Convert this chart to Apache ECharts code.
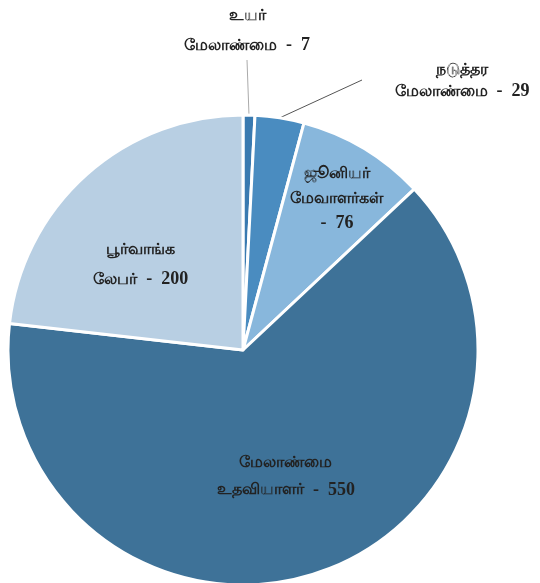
<!DOCTYPE html>
<html>
<head>
<meta charset="utf-8">
<script src="https://cdn.jsdelivr.net/npm/echarts@6/dist/echarts.min.js"></script>
<style>
  html,body{margin:0;padding:0;background:#fff;}
  #main{width:540px;height:583px;}
</style>
</head>
<body>
<div id="main"></div>
<script>
  // data
  var names = ['உயர்\nமேலாண்மை', 'நடுத்தர\nமேலாண்மை', 'ஜூனியர்\nமேவாளர்கள்\n', 'மேலாண்மை\nஉதவியாளர்', 'பூர்வாங்க\nலேபர்']
  var values = [7, 29, 76, 550, 200]
  var colors = ['#3a7ab0', '#4a8cc0', '#88b7dc', '#3e7298', '#b8cfe3']

  // label tweaks per slice
  var lineHeights = [30, 22, 25, 27, 30]
  var labelShift = [null, null, [32, -48], [5, 12], [-22, 4]]

  var chart = echarts.init(document.getElementById('main'))

  var seriesData = values.map(function (v, i) {
    var item = {
      name: names[i],
      value: v,
      itemStyle: { color: colors[i] }
    }
    if (i < 2) {
      item.label = { position: 'outside', lineHeight: lineHeights[i], overflow: 'none', width: 200 }
      item.labelLine = { show: true, length: 50, length2: 0, lineStyle: { color: i == 0 ? '#aaaaaa' : '#555555', width: 1 } }
    } else {
      item.label = { position: 'inside', lineHeight: lineHeights[i] }
      item.labelLine = { show: false }
    }
    return item
  })

  chart.setOption({
    animation: false,
    series: [{
      type: 'pie',
      center: [243, 350],
      radius: [0, 235],
      startAngle: 90,
      clockwise: true,
      silent: true,
      itemStyle: { borderColor: '#ffffff', borderWidth: 3 },
      label: {
        color: '#222222',
        fontSize: 16,
        align: 'center',
        formatter: function (p) {
          var sep = p.name.slice(-1) == '\n' ? '-  ' : '  -  '
          return '{t|' + p.name + '}{n|' + sep + p.value + '}'
        },
        rich: {
          t: { fontSize: 16, color: '#222222', fontWeight: 'bold', fontFamily: 'Noto Sans, DejaVu Sans, sans-serif' },
          n: { fontSize: 18, color: '#222222', fontWeight: 'bold', fontFamily: 'Liberation Serif, serif' }
        }
      },
      labelLayout: function (params) {
        var i = params.dataIndex
        if (i == 0) {
          return { x: 247, y: 60, align: 'center', verticalAlign: 'bottom' }
        }
        if (i == 1) {
          return { x: 462, y: 102, align: 'center', verticalAlign: 'bottom' }
        }
        var s = labelShift[i]
        return { dx: s[0], dy: s[1] }
      },
      data: seriesData
    }]
  })
</script>
</body>
</html>
